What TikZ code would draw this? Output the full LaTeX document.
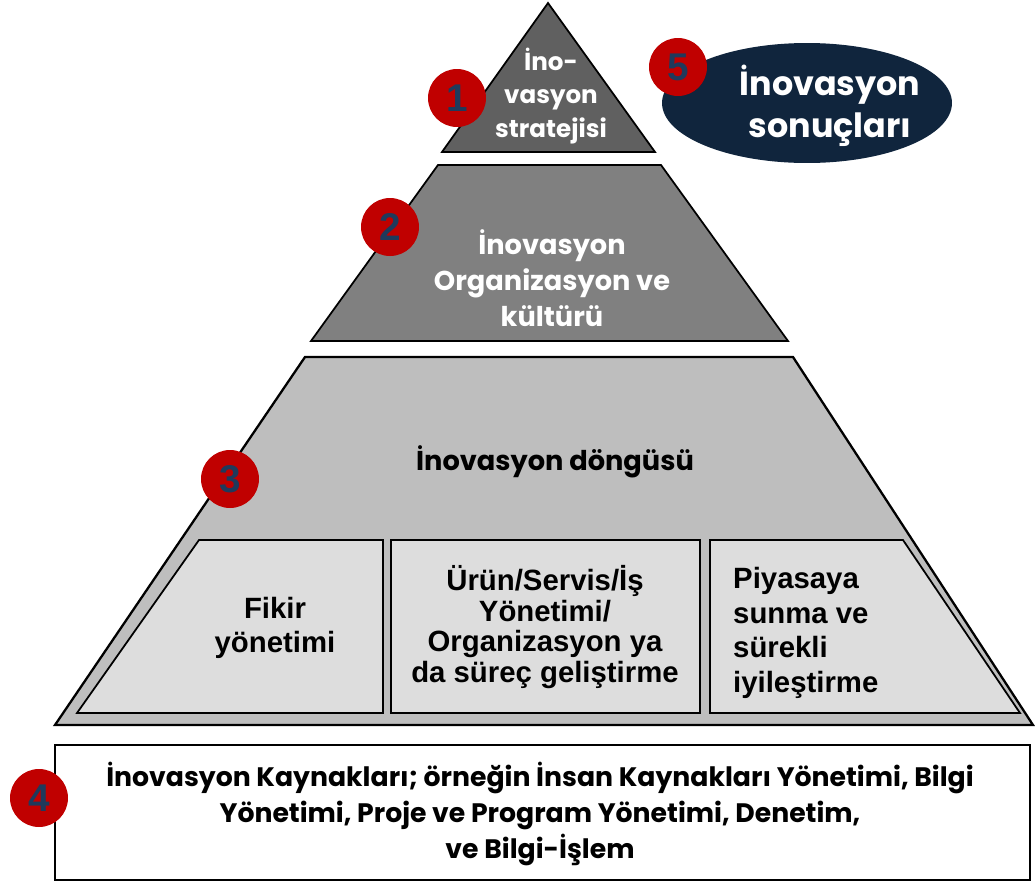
\documentclass[tikz,border=0pt]{standalone}
\usepackage{fontspec}
\setmainfont{Poppins}
\newfontfamily\arialfont{Liberation Sans}
\usetikzlibrary{shapes.geometric}
\definecolor{badgered}{RGB}{192,0,0}
\definecolor{badgeblue}{RGB}{31,58,92}
\definecolor{navy}{RGB}{16,37,61}
\definecolor{tierone}{RGB}{96,96,96}
\definecolor{tiertwo}{RGB}{128,128,128}
\definecolor{tierthree}{RGB}{190,190,190}
\definecolor{cyclebox}{RGB}{221,221,221}
\tikzset{
  tier/.style={draw=black,line width=1pt,line join=miter},
  badge/.style={circle,fill=badgered,minimum size=1.16cm,inner sep=0pt,text=badgeblue,font=\arialfont\bfseries\fontsize{22}{22}\selectfont},
  wtext/.style={text=white,align=center,font=\bfseries\fontsize{15.5}{20.6}\selectfont},
  btext/.style={text=black,align=center,font=\arialfont\bfseries\fontsize{16.7}{19.8}\selectfont}
}
\begin{document}
\begin{tikzpicture}[x=0.02cm,y=-0.02cm]
\useasboundingbox (0,0) rectangle (1035,883);
% pyramid
\draw[tier,fill=tierone] (548,3) -- (655,152) -- (442,152) -- cycle;
\draw[tier,fill=tiertwo] (438,165) -- (661,165) -- (788,341) -- (311,341) -- cycle;
\draw[tier,line width=1.3pt,fill=tierthree] (305,357) -- (793,357) -- (1033,725) -- (55,725) -- cycle;
\draw[tier,fill=cyclebox] (199,540) -- (383,540) -- (383,713) -- (77,713) -- cycle;
\draw[tier,fill=cyclebox] (391,540) rectangle (700,713);
\draw[tier,fill=cyclebox] (710,540) -- (903,540) -- (1020,713) -- (710,713) -- cycle;
\draw[tier,fill=white] (55,745) rectangle (1030,880);
% texts
\node[wtext,font=\bfseries\fontsize{14}{19.3}\selectfont] (strategy) at (551,96) {İno-\\vasyon\\stratejisi};
\node[wtext] (culture) at (552,278) {İnovasyon\\Organizasyon ve\\kültürü};
\node[wtext,text=black] (cycle) at (555,462) {İnovasyon döngüsü};
\node[btext] (idea) at (275,628) {Fikir\\yönetimi};
\node[btext,font=\arialfont\bfseries\fontsize{16.7}{17.6}\selectfont] (develop) at (545,627) {Ürün/Servis/İş\\Yönetimi/\\Organizasyon ya\\da süreç geliştirme};
\node[btext,align=left,anchor=west] (market) at (727,633) {Piyasaya\\sunma ve\\sürekli\\iyileştirme};
\node[wtext,text=black,font=\bfseries\fontsize{15.2}{20.6}\selectfont] (resources) at (540,814) {İnovasyon Kaynakları; örneğin İnsan Kaynakları Yönetimi, Bilgi\\Yönetimi, Proje ve Program Yönetimi, Denetim,\\ve Bilgi-İşlem};
% results
\node[ellipse,fill=navy,minimum width=5.8cm,minimum height=2.4cm] (results) at (807,103) {};
\node[wtext,font=\bfseries\fontsize{19}{24}\selectfont] (resultstext) at (830,106) {İnovasyon\\sonuçları};
% badges
\node[badge] (b1) at (457,98) {1};
\node[badge] (b2) at (390,227) {2};
\node[badge] (b3) at (230,479) {3};
\node[badge] (b4) at (39,798) {4};
\node[badge] (b5) at (678,67) {5};
\end{tikzpicture}
\end{document}
